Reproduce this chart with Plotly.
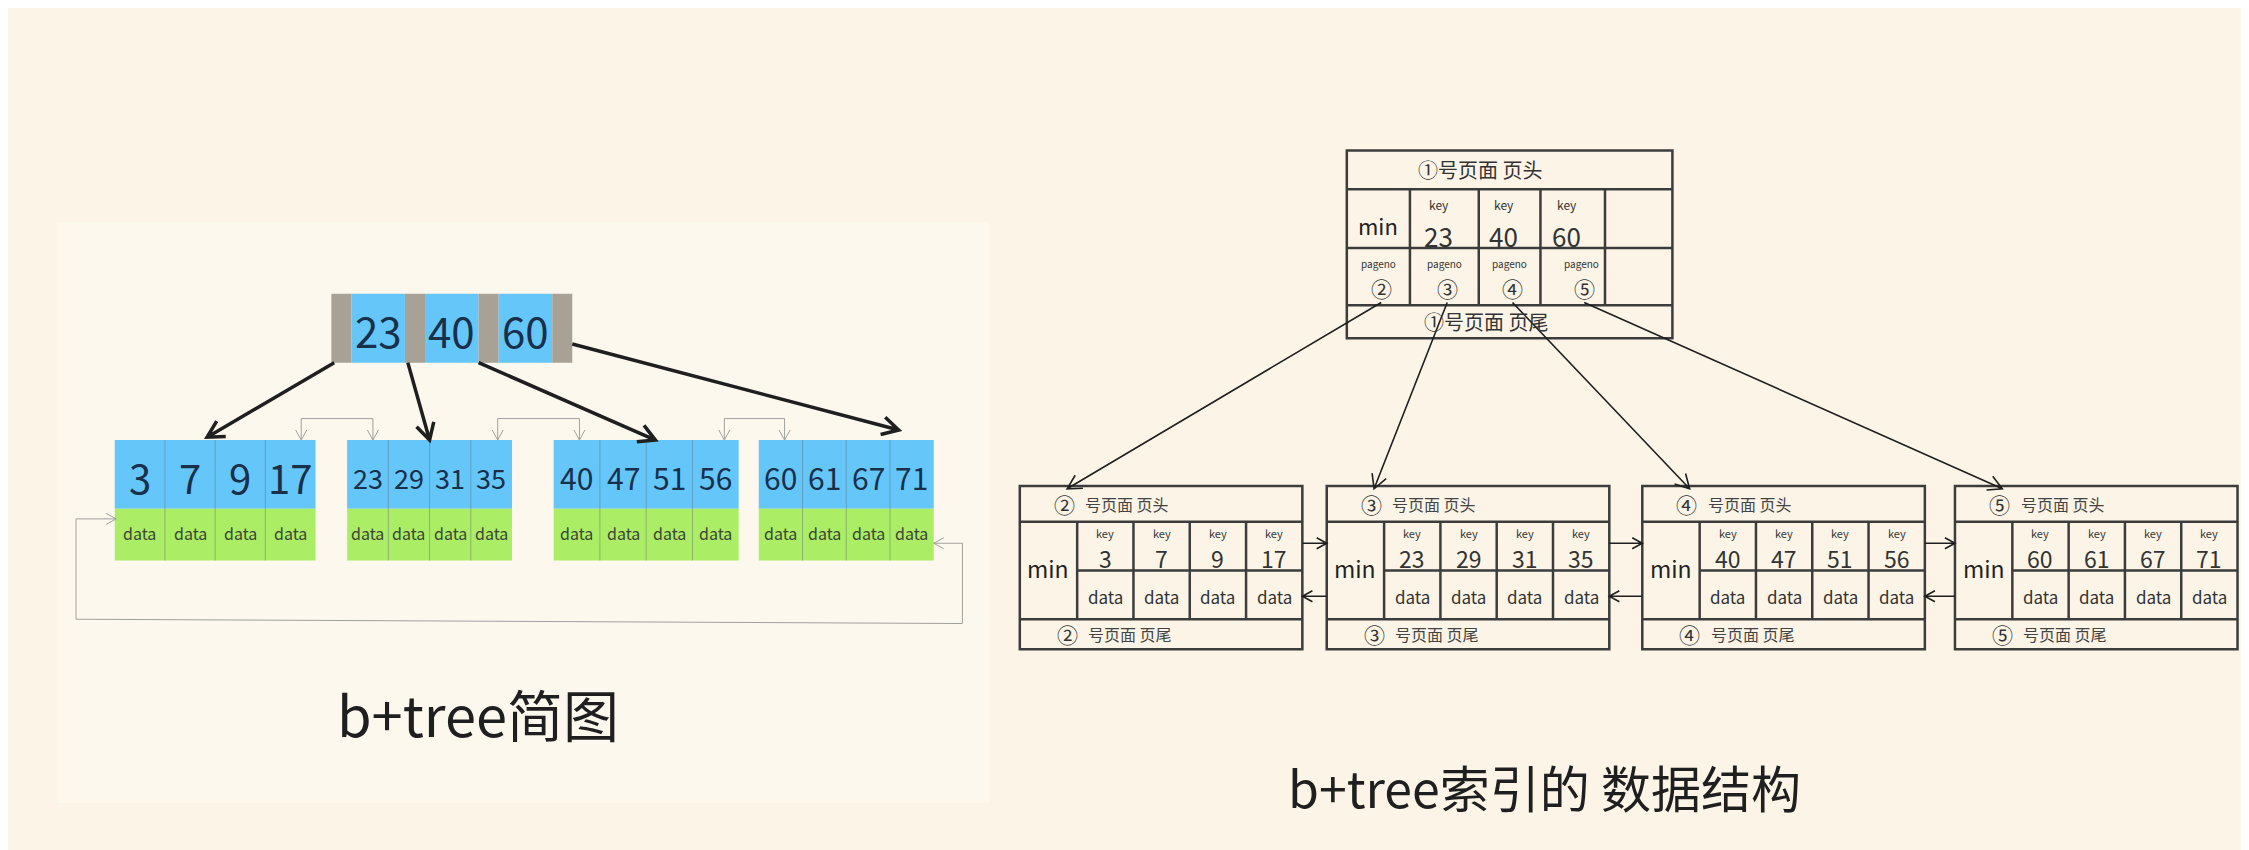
import math
import plotly.graph_objects as go

# drawing space = the reference picture scaled to 1568 x 593
W, H = 1568, 593

# ---- values ----
root_keys = [23, 40, 60]
leaf_keys = [[3, 7, 9, 17], [23, 29, 31, 35], [40, 47, 51, 56], [60, 61, 67, 71]]
root_page_id = '①'
page_ids = ['②', '③', '④', '⑤']
head_text = '号页面 页头'
tail_text = '号页面 页尾'
key_label = 'key'
ptr_label = 'pageno'
data_label = 'data'
min_label = 'min'
left_title = 'b+tree简图'
right_title = 'b+tree索引的 数据结构'

# ---- styles ----
BG = '#fcf5e7'
PANEL = '#fdf8ee'
BLUE = '#65c6fa'
GREEN = '#aced66'
GRAY = '#a8a296'
INK = '#1f1f1f'
NUM = '#18304a'
LINE = '#3c3c3c'
THIN = '#a0a0a0'
FONT = 'Noto Sans CJK SC, Noto Sans, sans-serif'
# the page body adds an 8px margin, shift the drawing back by that much
OFF = 8 * W / 2249

shapes = []
annos = []


def rect(x0, y0, x1, y1, fill=None, color=None, width=0):
    shapes.append(dict(type='rect', xref='x', yref='y', x0=x0, y0=y0, x1=x1, y1=y1,
                       fillcolor=fill or 'rgba(0,0,0,0)',
                       line=dict(color=color or 'rgba(0,0,0,0)', width=width), layer='below'))


def seg(x0, y0, x1, y1, color=LINE, width=2.5):
    shapes.append(dict(type='line', xref='x', yref='y', x0=x0, y0=y0, x1=x1, y1=y1,
                       line=dict(color=color, width=width)))


def vhead(xa, ya, xb, yb, size):
    # open "V" arrow head at (xb, yb) for a stroke coming from (xa, ya)
    ang = math.atan2(yb - ya, xb - xa)
    pts = [(xb - size * math.cos(ang + d), yb - size * math.sin(ang + d)) for d in (-0.5, 0.5)]
    return ' M %.2f %.2f L %.2f %.2f L %.2f %.2f' % (pts[0][0], pts[0][1], xb, yb, pts[1][0], pts[1][1])


def arrow(pts, color=INK, width=2, head=9, both=False):
    p = 'M %.2f %.2f' % pts[0]
    for q in pts[1:]:
        p += ' L %.2f %.2f' % q
    p += vhead(pts[-2][0], pts[-2][1], pts[-1][0], pts[-1][1], head)
    if both:
        p += vhead(pts[1][0], pts[1][1], pts[0][0], pts[0][1], head)
    shapes.append(dict(type='path', xref='x', yref='y', path=p,
                       line=dict(color=color, width=width)))


def text(x, y, s, size, color=INK, xanchor='center'):
    annos.append(dict(x=x, y=y, xref='x', yref='y', text=str(s), showarrow=False,
                      xanchor=xanchor, yanchor='middle', borderpad=0,
                      font=dict(family=FONT, size=size, color=color)))


# ================= left: b+tree sketch =================
rect(40, 155, 690, 560, fill=PANEL)

# root node
rx0, ry0, ry1, rw = 231, 205, 253, 168
gw = 14
bw = (rw - 4 * gw) / len(root_keys)
x = rx0
gray_lefts = []
for i, k in enumerate(root_keys):
    rect(x, ry0, x + gw, ry1, fill=GRAY)
    gray_lefts.append(x)
    x += gw
    rect(x, ry0, x + bw, ry1, fill=BLUE)
    text(x + bw / 2, (ry0 + ry1) / 2 + 1, k, 42, NUM)
    x += bw
rect(x, ry0, x + gw, ry1, fill=GRAY)

# leaf nodes
leaf_x = [80, 242, 386, 529]
leaf_w = [140, 115, 129, 122]
leaf_fs = [40, 27, 30, 30]
ly0, lym, ly1 = 307, 355, 391
for lx, w, keys, fs in zip(leaf_x, leaf_w, leaf_keys, leaf_fs):
    rect(lx, ly0, lx + w, lym, fill=BLUE)
    rect(lx, lym, lx + w, ly1, fill=GREEN)
    cw = w / len(keys)
    for j, k in enumerate(keys):
        cx = lx + cw * (j + 0.5)
        text(cx, (ly0 + lym) / 2 + 2, k, fs, NUM)
        text(cx, lym + 17, data_label, 16, '#3b4634')
        if j > 0:
            seg(lx + cw * j, ly0, lx + cw * j, ly1, color='rgba(90,110,120,0.45)', width=1)

# pointers root -> leaves
starts = [(gray_lefts[0] + 2, ry1), (gray_lefts[1] + 2, ry1), (gray_lefts[2], ry1), (rx0 + rw, 240)]
end_frac = [0.46, 0.5, 0.55, 0.8]
for (sx, sy), lx, w, f, ey in zip(starts, leaf_x, leaf_w, end_frac, [305, 307, 307, 300]):
    arrow([(sx, sy), (lx + w * f, ey)], color=INK, width=3.5, head=13)

# sibling links between leaves
for i in range(len(leaf_x) - 1):
    a = leaf_x[i] + leaf_w[i] - 10
    b = leaf_x[i + 1] + 18
    arrow([(a, ly0), (a, 292), (b, 292), (b, ly0)], color=THIN, width=1, head=8, both=True)

# loop from last leaf back to first
arrow([(leaf_x[-1] + leaf_w[-1], 379), (671, 379), (671, 435), (53, 432), (53, 362), (leaf_x[0] + 1, 362)],
      color=THIN, width=1, head=8, both=True)

text(333, 497, left_title, 56, INK)

# ================= right: page structure =================
# root page
px0, px1 = 939, 1166
py0, pyh, pym, pyf, py1 = 105, 132, 173, 213, 236
pcols = [983, 1031, 1074, 1119]
rect(px0, py0, px1, py1, color=LINE, width=2.5)
seg(px0, pyh, px1, pyh)
seg(px0, pym, px1, pym)
seg(px0, pyf, px1, pyf)
for c in pcols:
    seg(c, pyh, c, pyf)
text(1032, (py0 + pyh) / 2, root_page_id + head_text, 20, '#333')
text(1036, (pyf + py1) / 2, root_page_id + tail_text, 20, '#333')
text((px0 + pcols[0]) / 2, 157, min_label, 22, '#222')
ptr_x = []
for j, k in enumerate(root_keys):
    cx = (pcols[j] + pcols[j + 1]) / 2
    text(cx - 4, 143, key_label, 12, '#333')
    text(cx - 4, 164, k, 26, '#333')
for j in range(len(page_ids)):
    left = px0 if j == 0 else pcols[j - 1]
    cx = (left + pcols[j]) / 2 + (6 if j == 3 else 0)
    text(cx, 184, ptr_label, 10, '#333')
    text(cx + 2, 201, page_ids[j], 21, '#333')
    ptr_x.append(cx + 2)

# leaf pages
pg_x = [711, 925, 1145, 1363]
pg_w, min_w = 197, 40
gy0, gyh, gym, gyf, gy1 = 339, 364, 398, 432, 453
for i, (gx, pid, keys) in enumerate(zip(pg_x, page_ids, leaf_keys)):
    rect(gx, gy0, gx + pg_w, gy1, color=LINE, width=2.5)
    seg(gx, gyh, gx + pg_w, gyh)
    seg(gx, gyf, gx + pg_w, gyf)
    seg(gx + min_w, gym, gx + pg_w, gym)
    seg(gx + min_w, gyh, gx + min_w, gyf)
    cw = (pg_w - min_w) / len(keys)
    for j, k in enumerate(keys):
        c0 = gx + min_w + cw * j
        if j > 0:
            seg(c0, gyh, c0, gyf)
        cx = c0 + cw / 2
        text(cx, 372, key_label, 11, '#333')
        text(cx, 389, k, 23, '#333')
        text(cx, 416, data_label, 17, '#333')
    text(gx + min_w / 2, 396, min_label, 23, '#222')
    text(gx + 31, (gy0 + gyh) / 2, pid, 21, '#333')
    text(gx + 45, (gy0 + gyh) / 2, head_text, 16, '#444', xanchor='left')
    text(gx + 33, (gyf + gy1) / 2, pid, 21, '#333')
    text(gx + 47, (gyf + gy1) / 2, tail_text, 16, '#444', xanchor='left')
    # pointer from root page
    arrow([(ptr_x[i], 211), (gx + 33, gy0 + 2)], color=INK, width=1.6, head=11)
    # next / prev links
    if i < len(pg_x) - 1:
        nx = pg_x[i + 1]
        arrow([(gx + pg_w, 379), (nx, 379)], color=INK, width=1.6, head=8)
        arrow([(nx, 416), (gx + pg_w, 416)], color=INK, width=1.6, head=8)

text(1077, 548, right_title, 50, INK)

fig = go.Figure()
fig.update_layout(
    width=2249, height=850,
    margin=dict(l=0, r=0, t=0, b=0),
    paper_bgcolor=BG, plot_bgcolor=BG,
    xaxis=dict(range=[OFF, W + OFF], visible=False, fixedrange=True),
    yaxis=dict(range=[H + OFF, OFF], visible=False, fixedrange=True),
    shapes=shapes, annotations=annos, showlegend=False,
)
fig.write_html("out.html")
